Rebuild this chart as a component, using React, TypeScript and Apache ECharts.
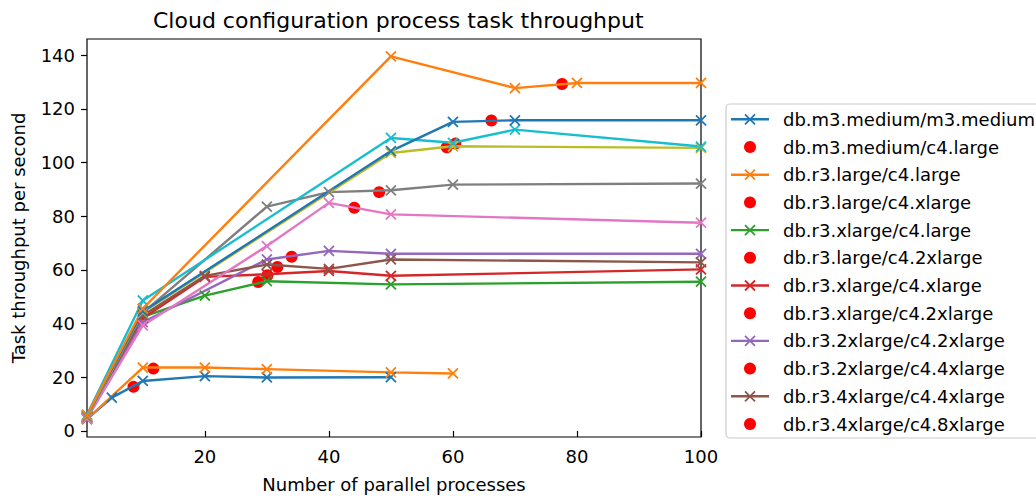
import React, { useEffect, useRef } from "react";
import * as echarts from "echarts";

const TITLE = "Cloud configuration process task throughput";
const X_LABEL = "Number of parallel processes";
const Y_LABEL = "Task throughput per second";

const X_TICKS = [20, 40, 60, 80, 100];
const Y_TICKS = [0, 20, 40, 60, 80, 100, 120, 140];

const COLORS = [
  "#1f77b4", "#ff7f0e", "#2ca02c", "#d62728", "#9467bd", "#8c564b",
  "#e377c2", "#7f7f7f", "#bcbd22", "#17becf", "#1f77b4", "#ff7f0e",
];

// line series (x = parallel processes, y = throughput)
const X0 = [1, 5, 10, 20, 30, 50];
const Y0 = [4.4, 12.4, 18.6, 20.4, 19.9, 20.0];
const X1 = [1, 10, 20, 30, 50, 60];
const Y1 = [4.4, 23.6, 23.6, 23.0, 21.8, 21.4];
const X2 = [1, 10, 20, 30, 50, 100];
const Y2 = [5.0, 42.5, 50.4, 55.8, 54.6, 55.6];
const X3 = [1, 10, 20, 30, 40, 50, 100];
const Y3 = [5.0, 42.0, 57.4, 58.4, 59.6, 57.8, 60.2];
const X4 = [1, 10, 30, 40, 50, 100];
const Y4 = [4.6, 40.5, 63.9, 67.1, 66.0, 66.0];
const X5 = [1, 10, 20, 30, 40, 50, 100];
const Y5 = [4.8, 43.0, 57.8, 62.0, 60.4, 63.9, 62.8];
const X6 = [1, 10, 30, 40, 50, 100];
const Y6 = [4.6, 39.3, 68.9, 85.0, 80.7, 77.6];
const X7 = [1, 10, 30, 40, 50, 60, 100];
const Y7 = [5.2, 44.0, 83.6, 89.0, 89.7, 91.8, 92.2];
const X8 = [1, 10, 50, 60, 100];
const Y8 = [5.4, 44.2, 103.6, 106.1, 105.5];
const X9 = [1, 10, 50, 60, 70, 100];
const Y9 = [6.0, 48.6, 109.2, 107.4, 112.3, 106.0];
const X10 = [1, 10, 50, 60, 70, 100];
const Y10 = [5.6, 44.5, 104.3, 115.2, 115.8, 115.8];
const X11 = [1, 10, 50, 70, 80, 100];
const Y11 = [5.8, 45.6, 139.6, 127.8, 129.7, 129.7];

// red dot markers, one per line
const DOT_X = [8.5, 11.7, 28.6, 30.1, 34.0, 31.7, 44.1, 48.1, 59.0, 60.4, 66.2, 77.6];
const DOT_Y = [16.4, 23.2, 55.5, 58.0, 64.9, 61.1, 83.2, 89.0, 105.7, 107.1, 115.7, 129.3];

const LEGEND_LABELS = [
  "db.m3.medium/m3.medium",
  "db.m3.medium/c4.large",
  "db.r3.large/c4.large",
  "db.r3.large/c4.xlarge",
  "db.r3.xlarge/c4.large",
  "db.r3.large/c4.2xlarge",
  "db.r3.xlarge/c4.xlarge",
  "db.r3.xlarge/c4.2xlarge",
  "db.r3.2xlarge/c4.2xlarge",
  "db.r3.2xlarge/c4.4xlarge",
  "db.r3.4xlarge/c4.4xlarge",
  "db.r3.4xlarge/c4.8xlarge",
];

const LINES_X = [X0, X1, X2, X3, X4, X5, X6, X7, X8, X9, X10, X11];
const LINES_Y = [Y0, Y1, Y2, Y3, Y4, Y5, Y6, Y7, Y8, Y9, Y10, Y11];

const FONT = "DejaVu Sans";
const XMARK = "path://M0,0L10,10M10,0L0,10";

export default function App() {
  const ref = useRef<HTMLDivElement>(null);
  useEffect(() => {
    if (!ref.current) return;
    const chart = echarts.init(ref.current, null, { renderer: "svg" });

    const series: any[] = [];
    LINES_X.forEach((xs, i) => {
      const name = i < 6 ? LEGEND_LABELS[2 * i] : "line" + i;
      series.push({
        type: "line",
        name,
        data: xs.map((x, k) => [x, LINES_Y[i][k]]),
        symbol: XMARK,
        symbolSize: 10,
        showSymbol: true,
        lineStyle: { color: COLORS[i], width: 2.4 },
        itemStyle: { color: COLORS[i], borderColor: COLORS[i], borderWidth: 1.8 },
        emphasis: { disabled: true },
      });
      series.push({
        type: "scatter",
        name: i < 6 ? LEGEND_LABELS[2 * i + 1] : "dot" + i,
        data: [[DOT_X[i], DOT_Y[i]]],
        symbol: "circle",
        symbolSize: 12,
        itemStyle: { color: "#ff0000", opacity: 1 },
        emphasis: { disabled: true },
      });
    });

    // legend drawn as graphic
    const legendEls: any[] = [];
    const lx = 726, ly = 104, rowH = 27.7, firstY = 119.3;
    legendEls.push({
      type: "rect",
      shape: { x: lx, y: ly, width: 400, height: 334, r: 4 },
      style: { fill: "rgba(255,255,255,0.8)", stroke: "#cccccc", lineWidth: 1.2 },
    });
    LEGEND_LABELS.forEach((lab, i) => {
      const cy = firstY + i * rowH;
      if (i % 2 === 0) {
        const c = COLORS[i / 2];
        legendEls.push({ type: "line", shape: { x1: 731, y1: cy, x2: 769, y2: cy }, style: { stroke: c, lineWidth: 2.4 } });
        legendEls.push({ type: "line", shape: { x1: 745, y1: cy - 5, x2: 755, y2: cy + 5 }, style: { stroke: c, lineWidth: 1.8 } });
        legendEls.push({ type: "line", shape: { x1: 745, y1: cy + 5, x2: 755, y2: cy - 5 }, style: { stroke: c, lineWidth: 1.8 } });
      } else {
        legendEls.push({ type: "circle", shape: { cx: 750, cy, r: 6 }, style: { fill: "#ff0000" } });
      }
      legendEls.push({
        type: "text",
        x: 783,
        y: cy,
        style: { text: lab, fontSize: 18, fontFamily: FONT, fill: "#000", verticalAlign: "middle", textAlign: "left" },
      });
    });

    chart.setOption({
      animation: false,
      backgroundColor: "#fff",
      textStyle: { fontFamily: FONT },
      title: {
        text: TITLE,
        left: 148,
        top: 4,
        textStyle: { fontSize: 22, fontWeight: "normal", color: "#000", fontFamily: FONT },
      },
      grid: { left: 87, top: 39, width: 614, height: 399, show: true, borderColor: "#000", borderWidth: 1.2, containLabel: false },
      xAxis: {
        type: "value",
        min: 1,
        max: 100,
        name: X_LABEL,
        nameLocation: "middle",
        nameGap: 38,
        nameTextStyle: { fontSize: 18, color: "#000", fontFamily: FONT },
        axisLine: { show: false },
        axisTick: { show: true, length: 6, lineStyle: { color: "#000", width: 1.2 }, customValues: X_TICKS },
        axisLabel: { fontSize: 18, color: "#000", margin: 10, customValues: X_TICKS, fontFamily: FONT },
        splitLine: { show: false },
      },
      yAxis: {
        type: "value",
        min: -2.3,
        max: 146.1,
        name: Y_LABEL,
        nameLocation: "middle",
        nameGap: 60,
        nameTextStyle: { fontSize: 18, color: "#000", fontFamily: FONT },
        axisLine: { show: false },
        axisTick: { show: true, length: 6, lineStyle: { color: "#000", width: 1.2 }, customValues: Y_TICKS },
        axisLabel: { fontSize: 18, color: "#000", margin: 12, customValues: Y_TICKS, fontFamily: FONT },
        splitLine: { show: false },
      },
      series,
      graphic: legendEls,
    });
    return () => chart.dispose();
  }, []);
  return <div ref={ref} style={{ position: "absolute", left: 0, top: 0, width: 1036, height: 498 }} />;
}
